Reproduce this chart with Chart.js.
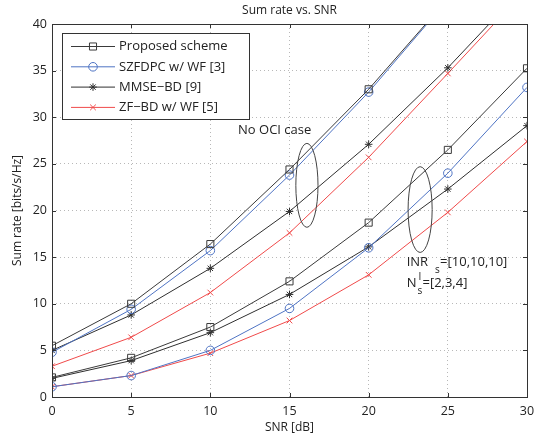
<!DOCTYPE html>
<html><head><meta charset="utf-8">
<script src="https://cdn.jsdelivr.net/npm/chart.js@4/dist/chart.umd.min.js"></script>
<style>html,body{margin:0;padding:0;background:#fff;}#wrap{width:542px;height:437px;}</style>
</head><body><div id="wrap"><canvas id="c" width="542" height="437"></canvas></div>
<script>
// ---- data ----
const snrDb = [0, 5, 10, 15, 20, 25, 30];
const xTicks = [0, 5, 10, 15, 20, 25, 30];
const yTicks = [0, 5, 10, 15, 20, 25, 30, 35, 40];
const seriesNames = ['Proposed scheme', 'SZFDPC w/ WF [3]', 'MMSE\u2212BD [9]', 'ZF\u2212BD w/ WF [5]'];
// No OCI case
const proposedNoOCI = [5.5, 10.0, 16.4, 24.4, 33.0, 42.7, null];
const szfdpcNoOCI   = [4.8, 9.4, 15.7, 23.8, 32.7, 42.6, null];
const mmseNoOCI     = [5.0, 8.8, 13.8, 19.9, 27.1, 35.3, 44.3];
const zfNoOCI       = [3.3, 6.4, 11.2, 17.6, 25.7, 34.7, 43.8];
// INR_s=[10,10,10], N_s^I=[2,3,4]
const proposedOCI = [2.1, 4.2, 7.5, 12.4, 18.7, 26.5, 35.25];
const szfdpcOCI   = [1.1, 2.3, 5.0, 9.5, 16.0, 24.0, 33.2];
const mmseOCI     = [2.0, 3.9, 6.9, 11.0, 16.1, 22.3, 29.1];
const zfOCI       = [1.1, 2.3, 4.7, 8.2, 13.1, 19.8, 27.4];

const FONT = '"Open Sans", "DejaVu Sans", sans-serif';
const styles = [
  {color: '#3a3a3a', pointStyle: 'rect', radius: 5},
  {color: '#4f74c4', pointStyle: 'circle', radius: 4.3},
  {color: '#2f2f2f', pointStyle: 'star', radius: 3.8},
  {color: '#f04a4a', pointStyle: 'crossRot', radius: 4}
];
const groups = [
  [proposedNoOCI, szfdpcNoOCI, mmseNoOCI, zfNoOCI],
  [proposedOCI, szfdpcOCI, mmseOCI, zfOCI]
];
const datasets = [];
groups.forEach((g, gi) => g.forEach((vals, si) => {
  const st = styles[si];
  datasets.push({
    label: seriesNames[si] + (gi ? ' (OCI)' : ''),
    data: snrDb.map((x, i) => ({x: x, y: vals[i]})),
    borderColor: st.color, backgroundColor: 'rgba(0,0,0,0)',
    borderWidth: 1, pointStyle: st.pointStyle, pointRadius: st.radius,
    pointBorderColor: st.color, pointBackgroundColor: 'rgba(0,0,0,0)',
    pointBorderWidth: 1, pointHoverRadius: st.radius,
    spanGaps: false, tension: 0
  });
}));

// annotations in data coordinates
const ellipses = [
  {cx: 16.1, cy: 22.7, rx: 0.7, ry: 4.5},
  {cx: 23.25, cy: 20.1, rx: 0.76, ry: 4.6}
];
const noOciLabel = {x: 11.75, y: 28.6, text: 'No OCI case'};
const inrLabel = {x: 22.4, y: 14.45};

const overlay = {
  id: 'overlay',
  afterDraw(chart) {
    const ctx = chart.ctx, a = chart.chartArea;
    const xs = chart.scales.x, ys = chart.scales.y;
    ctx.save();
    // box
    ctx.strokeStyle = '#333'; ctx.lineWidth = 1;
    ctx.strokeRect(Math.round(a.left) + 0.5, Math.round(a.top) + 0.5, Math.round(a.right - a.left), Math.round(a.bottom - a.top));
    // inner ticks
    const tl = 4;
    ctx.beginPath();
    xTicks.forEach(v => {
      const px = Math.round(xs.getPixelForValue(v)) + 0.5;
      ctx.moveTo(px, a.bottom); ctx.lineTo(px, a.bottom - tl);
      ctx.moveTo(px, a.top); ctx.lineTo(px, a.top + tl);
    });
    yTicks.forEach(v => {
      const py = Math.round(ys.getPixelForValue(v)) + 0.5;
      ctx.moveTo(a.left, py); ctx.lineTo(a.left + tl, py);
      ctx.moveTo(a.right, py); ctx.lineTo(a.right - tl, py);
    });
    ctx.stroke();
    // ellipses
    ctx.strokeStyle = '#444';
    ellipses.forEach(e => {
      const cx = xs.getPixelForValue(e.cx), cy = ys.getPixelForValue(e.cy);
      const rx = Math.abs(xs.getPixelForValue(e.cx + e.rx) - cx);
      const ry = Math.abs(ys.getPixelForValue(e.cy + e.ry) - cy);
      ctx.beginPath(); ctx.ellipse(cx, cy, rx, ry, 0, 0, Math.PI * 2); ctx.stroke();
    });
    // text annotations
    ctx.fillStyle = '#222';
    ctx.textBaseline = 'middle'; ctx.textAlign = 'left';
    ctx.font = '13px ' + FONT;
    ctx.fillText(noOciLabel.text, xs.getPixelForValue(noOciLabel.x), ys.getPixelForValue(noOciLabel.y));
    let ix = xs.getPixelForValue(inrLabel.x), iy = ys.getPixelForValue(inrLabel.y);
    ctx.fillText('INR', ix, iy);
    let w = ctx.measureText('INR').width;
    ctx.font = '10px ' + FONT;
    ctx.fillText('s', ix + w + 7, iy + 8);
    ctx.font = '13px ' + FONT;
    ctx.fillText('=[10,10,10]', ix + w + 12, iy);
    const iy2 = iy + 21;
    ctx.fillText('N', ix, iy2);
    w = ctx.measureText('N').width;
    ctx.font = '10px ' + FONT;
    ctx.fillText('I', ix + w + 2, iy2 - 6);
    ctx.fillText('s', ix + w + 1, iy2 + 8);
    ctx.font = '13px ' + FONT;
    ctx.fillText('=[2,3,4]', ix + w + 6, iy2);
    // title
    ctx.textAlign = 'center';
    ctx.font = '12px ' + FONT;
    ctx.fillText('Sum rate vs. SNR', (a.left + a.right) / 2, 11);
    // legend
    const lx = 62.5, ly = 33.5, lw = 187, lh = 86;
    ctx.fillStyle = '#fff'; ctx.fillRect(lx, ly, lw, lh);
    ctx.strokeStyle = '#333'; ctx.strokeRect(lx, ly, lw, lh);
    ctx.textAlign = 'left'; ctx.font = '13px ' + FONT;
    seriesNames.forEach((name, i) => {
      const st = styles[i];
      const ry = ly + 13 + i * 20.3;
      ctx.strokeStyle = st.color; ctx.lineWidth = 1;
      ctx.beginPath(); ctx.moveTo(lx + 8.5, ry); ctx.lineTo(lx + 52.5, ry); ctx.stroke();
      ctx.fillStyle = 'rgba(0,0,0,0)';
      Chart.helpers.drawPoint(ctx, {pointStyle: st.pointStyle, radius: st.radius, borderWidth: 1}, lx + 30.5, ry);
      ctx.fillStyle = '#222';
      ctx.fillText(name, lx + 56.5, ry);
    });
    ctx.restore();
  }
};

new Chart(document.getElementById('c'), {
  type: 'line',
  data: {datasets: datasets},
  plugins: [overlay],
  options: {
    responsive: false, animation: false,
    layout: {padding: {left: 0, right: 15, top: 24, bottom: 0}},
    plugins: {legend: {display: false}, title: {display: false}, tooltip: {enabled: false}},
    scales: {
      x: {
        type: 'linear', min: 0, max: 30,
        afterFit(s) { s.height = 40; },
        afterBuildTicks(s) { s.ticks = xTicks.map(v => ({value: v})); },
        grid: {color: '#b8b8b8', lineWidth: 1, drawTicks: false},
        border: {display: false, dash: [1, 3]},
        ticks: {color: '#222', font: {family: FONT, size: 12.5}, padding: 7, maxRotation: 0},
        title: {display: true, text: 'SNR [dB]', color: '#222', font: {family: FONT, size: 12}, padding: {top: 0, bottom: 2}}
      },
      y: {
        type: 'linear', min: 0, max: 40,
        afterFit(s) { s.width = 52; },
        afterBuildTicks(s) { s.ticks = yTicks.map(v => ({value: v})); },
        grid: {color: '#b8b8b8', lineWidth: 1, drawTicks: false},
        border: {display: false, dash: [1, 3]},
        ticks: {color: '#222', font: {family: FONT, size: 12.5}, padding: 5},
        title: {display: true, text: 'Sum rate [bits/s/Hz]', color: '#222', font: {family: FONT, size: 12}, padding: {top: 10, bottom: 0}}
      }
    }
  }
});
</script></body></html>
